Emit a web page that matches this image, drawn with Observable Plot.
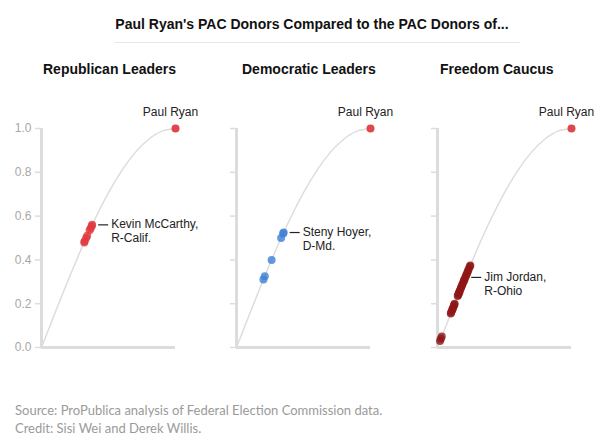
<!DOCTYPE html>
<html>
<head>
<meta charset="utf-8">
<script src="https://cdn.jsdelivr.net/npm/d3@7"></script>
<script src="https://cdn.jsdelivr.net/npm/@observablehq/plot@0.6"></script>
<style>
  html, body { margin: 0; padding: 0; background: #fff; }
  #root { position: relative; width: 614px; height: 447px; font-family: "Liberation Sans", Arial, Helvetica, sans-serif; }
  .abs { position: absolute; white-space: nowrap; }
  .title { left: 0; width: 624px; text-align: center; top: 16px; font-weight: bold; font-size: 14px; color: #111; }
  .rule { left: 115px; top: 42px; width: 405px; height: 1px; background: #e6e6e6; }
  .ptitle { top: 61px; font-weight: bold; font-size: 14px; color: #111; }
  .caption { left: 15px; top: 401px; font-family: Lato, "Open Sans", sans-serif; font-size: 13px; line-height: 18px; color: #9a9a9a; }
  .panel { position: absolute; top: 95px; }
</style>
</head>
<body>
<div id="root">
  <div class="abs title">Paul Ryan's PAC Donors Compared to the PAC Donors of...</div>
  <div class="abs rule"></div>
  <div class="abs ptitle" style="left:43px">Republican Leaders</div>
  <div class="abs ptitle" style="left:242px">Democratic Leaders</div>
  <div class="abs ptitle" style="left:440px">Freedom Caucus</div>
  <div id="p0" class="panel" style="left:0px"></div>
  <div id="p1" class="panel" style="left:195px"></div>
  <div id="p2" class="panel" style="left:396px"></div>
  <div class="abs caption">Source: ProPublica analysis of Federal Election Commission data.<br>Credit: Sisi Wei and Derek Willis.</div>
</div>
<script>
// ---- data ----
const panelTitles = ["Republican Leaders", "Democratic Leaders", "Freedom Caucus"];
const yTicks = [0, 0.2, 0.4, 0.6, 0.8, 1.0];

// reference curve
const curveX = [0, 0.1, 0.2, 0.3, 0.4, 0.5, 0.6, 0.7, 0.8, 0.9, 1.0];
const curveY = [0, 0.156, 0.309, 0.454, 0.588, 0.707, 0.809, 0.891, 0.951, 0.988, 1.0];

// Paul Ryan
const ryanX = 1.0, ryanY = 1.0;

// Republican leaders
const repX = [0.378, 0.375, 0.367, 0.359, 0.341, 0.333, 0.322, 0.319];
const repY = [0.560, 0.555, 0.545, 0.535, 0.510, 0.500, 0.485, 0.480];

// Democratic leaders
const demX = [0.352, 0.348, 0.333, 0.262, 0.211, 0.201];
const demY = [0.525, 0.520, 0.500, 0.400, 0.325, 0.310];

// Freedom Caucus
const fcX = [0.245, 0.241, 0.234, 0.228, 0.224, 0.218, 0.214, 0.207, 0.201, 0.197, 0.194, 0.187, 0.184, 0.177, 0.174, 0.167,
             0.164, 0.161, 0.158, 0.154, 0.151, 0.128, 0.125, 0.122, 0.115, 0.112, 0.109, 0.102, 0.099, 0.032, 0.025, 0.019];
const fcY = [0.375, 0.370, 0.360, 0.350, 0.345, 0.335, 0.330, 0.320, 0.310, 0.305, 0.300, 0.290, 0.285, 0.275, 0.270, 0.260,
             0.255, 0.250, 0.245, 0.240, 0.235, 0.200, 0.195, 0.190, 0.180, 0.175, 0.170, 0.160, 0.155, 0.050, 0.040, 0.030];

const labels = ["Kevin McCarthy,\nR-Calif.", "Steny Hoyer,\nD-Md.", "Jim Jordan,\nR-Ohio"];
const labelIndex = [0, 0, 7];
const colors = ["#e0393e", "#3f7fd6", "#8e1616"];
const ryanColor = "#e0474c";

// ---- build ----
const zip = (xs, ys) => xs.map((x, i) => ({x, y: ys[i]}));
const curve = zip(curveX, curveY);
const ryan = [{x: ryanX, y: ryanY}];
const groups = [zip(repX, repY), zip(demX, demY), zip(fcX, fcY)];

const leaderSymbol = {
  draw(context) { context.moveTo(6, 0); context.lineTo(16, 0); }
};

groups.forEach((pts, i) => {
  const lab = [pts[labelIndex[i]]];
  const chart = Plot.plot({
    width: 200,
    height: 257,
    marginLeft: 41,
    marginRight: 25,
    marginTop: 33,
    marginBottom: 5,
    x: {domain: [0, 1], axis: null},
    y: {domain: [0, 1]},
    style: {fontFamily: "'Liberation Sans', Arial, sans-serif", fontSize: "12px", color: "#222", background: "transparent", overflow: "visible"},
    marks: [
      Plot.axisY({ticks: yTicks, tickSize: 6, tickPadding: 4, label: null,
        tickFormat: i === 0 ? d3.format(".1f") : () => "",
        stroke: "#dcdcdc", fill: "#a8a8a8", strokeWidth: 1.5, fontSize: 12}),
      Plot.ruleX([0], {y1: 0, y2: 1, stroke: "#dcdcdc", strokeWidth: 3}),
      Plot.ruleY([0], {x1: 0, x2: 1, stroke: "#dcdcdc", strokeWidth: 3}),
      Plot.line(curve, {x: "x", y: "y", stroke: "#dddddd", strokeWidth: 1.5, curve: "natural"}),
      Plot.dot(pts, {x: "x", y: "y", r: 4, fill: colors[i], fillOpacity: 0.8}),
      Plot.dot(ryan, {x: "x", y: "y", r: 4, fill: ryanColor}),
      Plot.text(ryan, {x: "x", y: "y", text: () => "Paul Ryan", dy: -16, dx: -5, fill: "#222", fontSize: 12}),
      Plot.dot(lab, {x: "x", y: "y", symbol: leaderSymbol, r: 4, stroke: "#222", strokeWidth: 1.2, fill: "none"}),
      Plot.text(lab, {x: "x", y: "y", text: () => labels[i], textAnchor: "start", lineAnchor: "top", dx: 19, dy: -7, lineHeight: 1.2, fill: "#222", fontSize: 12})
    ]
  });
  document.getElementById("p" + i).appendChild(chart);
});
</script>
</body>
</html>
